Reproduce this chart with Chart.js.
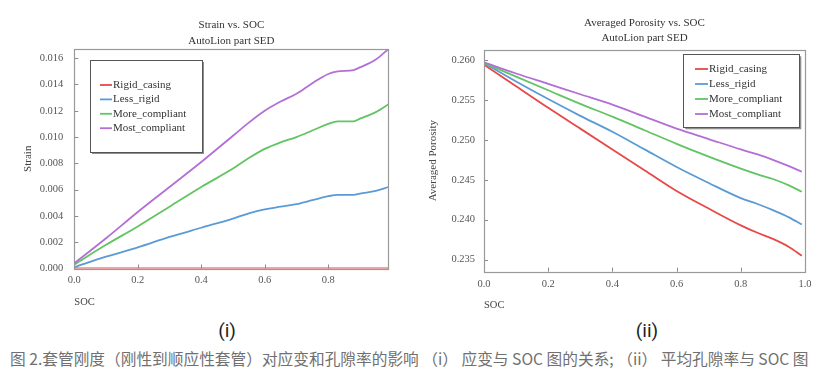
<!DOCTYPE html>
<html>
<head>
<meta charset="utf-8">
<script src="https://cdn.jsdelivr.net/npm/chart.js@4"></script>
<style>
  html,body{margin:0;padding:0;background:#fff;}
  body{width:831px;height:383px;position:relative;overflow:hidden;}
  canvas{position:absolute;top:0;}
  .lab{position:absolute;font-family:Roboto,"Noto Sans",sans-serif;font-size:19px;font-weight:400;color:#1e1e1e;transform:translate(-50%,-50%);white-space:nowrap;}
  #cap{position:absolute;left:10px;top:358px;transform:translateY(-50%);font-family:"Noto Sans CJK SC","Noto Sans",sans-serif;font-size:15.7px;color:#707070;white-space:nowrap;}
</style>
</head>
<body>
<canvas id="c1" width="415" height="315" style="left:0"></canvas>
<canvas id="c2" width="416" height="315" style="left:415px"></canvas>
<div class="lab" style="left:227px;top:330px">(i)</div>
<div class="lab" style="left:647px;top:330px">(ii)</div>
<div id="cap">图 2.套管刚度（刚性到顺应性套管）对应变和孔隙率的影响 （i） 应变与 SOC 图的关系; （ii） 平均孔隙率与 SOC 图</div>
<script>
// ---- data ----
const seriesNames = ['Rigid_casing', 'Less_rigid', 'More_compliant', 'Most_compliant'];
const seriesColors = ['#e84848', '#5b9bd5', '#62c462', '#b46fd6'];

// Chart (i): Strain vs SOC
const socStrain = [0, 0.1, 0.2, 0.3, 0.4, 0.5, 0.55, 0.6, 0.65, 0.7, 0.75, 0.8, 0.83, 0.88, 0.9, 0.95, 0.99];
const strainRigid = [0, 0, 0, 0, 0, 0, 0, 0, 0, 0, 0, 0, 0, 0, 0, 0, 0];
const strainLess = [0.0001, 0.0009, 0.0016, 0.0024, 0.0031, 0.0038, 0.0042, 0.0045, 0.0047, 0.0049, 0.0052, 0.0055, 0.0056, 0.0056, 0.0057, 0.0059, 0.0062];
const strainMore = [0.0003, 0.0018, 0.0032, 0.0047, 0.0062, 0.0076, 0.0084, 0.0091, 0.0096, 0.0100, 0.0105, 0.0110, 0.0112, 0.0112, 0.0114, 0.0119, 0.0125];
const strainMost = [0.0004, 0.0023, 0.0043, 0.0062, 0.0081, 0.0101, 0.0111, 0.0120, 0.0127, 0.0133, 0.0141, 0.0148, 0.0150, 0.0151, 0.0153, 0.0159, 0.0167];

// Chart (ii): Averaged Porosity vs SOC
const socPoro = [0, 0.1, 0.2, 0.3, 0.4, 0.5, 0.6, 0.7, 0.8, 0.85, 0.9, 0.95, 0.99];
const poroRigid = [0.2594, 0.2567, 0.2540, 0.2514, 0.2488, 0.2462, 0.2436, 0.2414, 0.2393, 0.2384, 0.2376, 0.2366, 0.2355];
const poroLess = [0.2596, 0.2573, 0.2551, 0.2530, 0.2510, 0.2488, 0.2466, 0.2446, 0.2427, 0.2420, 0.2412, 0.2403, 0.2394];
const poroMore = [0.2596, 0.2579, 0.2562, 0.2545, 0.2529, 0.2512, 0.2495, 0.2479, 0.2464, 0.2457, 0.2451, 0.2443, 0.2435];
const poroMost = [0.2597, 0.2583, 0.2570, 0.2557, 0.2544, 0.2529, 0.2514, 0.2501, 0.2488, 0.2482, 0.2475, 0.2467, 0.2460];

const titles1 = ['Strain vs. SOC', 'AutoLion part SED'];
const titles2 = ['Averaged Porosity vs. SOC', 'AutoLion part SED'];

Chart.defaults.font.family = '"Liberation Serif", "DejaVu Serif", serif';
Chart.defaults.color = '#444';

function pts(xs, ys){ return xs.map((x,i)=>({x:x, y:ys[i]})); }
function makeDatasets(xs, arrs){
  return arrs.map((a,i)=>({
    label: seriesNames[i], data: pts(xs,a), borderColor: seriesColors[i], backgroundColor: seriesColors[i],
    borderWidth: 1.8, pointRadius: 0, tension: 0.35, cubicInterpolationMode: 'monotone', fill: false
  })).reverse();
}

function decorPlugin(cfg){
  return {
    id: 'decor',
    afterDatasetsDraw(chart){
      const ctx = chart.ctx, a = chart.chartArea, xs = chart.scales.x, ys = chart.scales.y;
      ctx.save();
      // inward ticks
      ctx.strokeStyle = '#8a8a8a'; ctx.lineWidth = 1;
      ctx.beginPath();
      xs.ticks.forEach((t,i)=>{ const p = Math.round(xs.getPixelForTick(i))+0.5; ctx.moveTo(p, a.bottom); ctx.lineTo(p, a.bottom-4); });
      ys.ticks.forEach((t,i)=>{ const p = Math.round(ys.getPixelForTick(i))+0.5; ctx.moveTo(a.left, p); ctx.lineTo(a.left+4, p); });
      ctx.stroke();
      // frame
      ctx.strokeStyle = '#999'; ctx.lineWidth = 1.2;
      ctx.strokeRect(Math.round(a.left)+0.5, Math.round(a.top)+0.5, Math.round(a.right-a.left), Math.round(a.bottom-a.top));
      // titles
      ctx.fillStyle = '#333'; ctx.font = '11px "Liberation Serif", serif';
      ctx.textAlign = 'center'; ctx.textBaseline = 'middle';
      const cx = (a.left + a.right)/2;
      cfg.titles.forEach((t,i)=> ctx.fillText(t, cx, cfg.titleY[i]));
      // legend box
      const bx = cfg.legendRight ? a.right - cfg.lgDx - cfg.lgW : a.left + cfg.lgDx;
      const by = a.top + cfg.lgDy;
      ctx.fillStyle = '#8f8f8f';
      ctx.fillRect(bx+2, by+2, cfg.lgW, cfg.lgH);
      ctx.fillStyle = '#fff';
      ctx.fillRect(bx, by, cfg.lgW, cfg.lgH);
      ctx.strokeStyle = '#555'; ctx.lineWidth = 1;
      ctx.strokeRect(Math.round(bx)+0.5, Math.round(by)+0.5, cfg.lgW, cfg.lgH);
      ctx.font = '11px "Liberation Serif", serif';
      ctx.textAlign = 'left';
      seriesNames.forEach((n,i)=>{
        const yy = by + cfg.lgFirst + i*cfg.lgStep;
        ctx.strokeStyle = seriesColors[i]; ctx.lineWidth = 1.8;
        ctx.beginPath(); ctx.moveTo(bx+cfg.smpX, yy); ctx.lineTo(bx+cfg.smpX+cfg.smpL, yy); ctx.stroke();
        ctx.fillStyle = '#333';
        ctx.fillText(n, bx+cfg.txtX, yy);
      });
      ctx.restore();
    }
  };
}

function makeChart(id, xs, arrs, o){
  return new Chart(document.getElementById(id), {
    type: 'line',
    data: { datasets: makeDatasets(xs, arrs) },
    options: {
      responsive: false, animation: false, devicePixelRatio: 1,
      layout: { padding: { left: 0, top: o.top, right: o.right, bottom: 0 } },
      plugins: { legend: { display: false }, title: { display: false }, tooltip: { enabled: false } },
      scales: {
        x: {
          type: 'linear', min: 0, max: o.xmax,
          grid: { display: false, drawTicks: false }, border: { display: false },
          ticks: { stepSize: 0.2, includeBounds: false, padding: o.xpad, autoSkip: false, maxRotation: 0,
                   font: { size: 10.5 }, color: '#555', callback: v => v.toFixed(1) },
          title: { display: true, text: 'SOC', align: 'start', color: '#444',
                   font: { size: 10.5, lineHeight: 1.2 }, padding: { top: 0, bottom: o.xtPad } },
          afterFit: s => { s.height = o.xh; }
        },
        y: {
          type: 'linear', min: o.ymin, max: o.ymax,
          grid: { display: false, drawTicks: false }, border: { display: false },
          ticks: { stepSize: o.ystep, includeBounds: false, padding: o.ypad, autoSkip: false,
                   font: { size: 10.5 }, color: '#555', callback: v => v.toFixed(3) },
          title: { display: true, text: o.ytitle, color: '#444',
                   font: { size: 11, lineHeight: 1.2 }, padding: { top: o.ytPad, bottom: 0 } },
          afterFit: s => { s.width = o.yw; }
        }
      }
    },
    plugins: [decorPlugin(o.decor)]
  });
}

makeChart('c1', socStrain, [strainRigid, strainLess, strainMore, strainMost], {
  top: 49, right: 26.5, xmax: 0.99, xh: 46.5, xpad: 5.9, xtPad: 6.7,
  ymin: 0, ymax: 0.0167, ystep: 0.002, ypad: 11, yw: 74.3, ytitle: 'Strain', ytPad: 21.4,
  decor: { titles: titles1, titleY: [25, 40.7], legendRight: false, lgDx: 15.7, lgDy: 11, lgW: 112, lgH: 92,
           lgFirst: 25, lgStep: 14.4, smpX: 10, smpL: 12, txtX: 23 }
});

makeChart('c2', socPoro, [poroRigid, poroLess, poroMore, poroMost], {
  top: 49.5, right: 26, xmax: 1.0, xh: 43.3, xpad: 6.7, xtPad: 3.4,
  ymin: 0.2335, ymax: 0.2613, ystep: 0.005, ypad: 9, yw: 69, ytitle: 'Averaged Porosity', ytPad: 11.4,
  decor: { titles: titles2, titleY: [23.3, 38.5], legendRight: true, lgDx: 5.7, lgDy: 4.8, lgW: 116, lgH: 73,
           lgFirst: 14.7, lgStep: 15, smpX: 11.7, smpL: 13, txtX: 25.7 }
});
</script>
</body>
</html>
